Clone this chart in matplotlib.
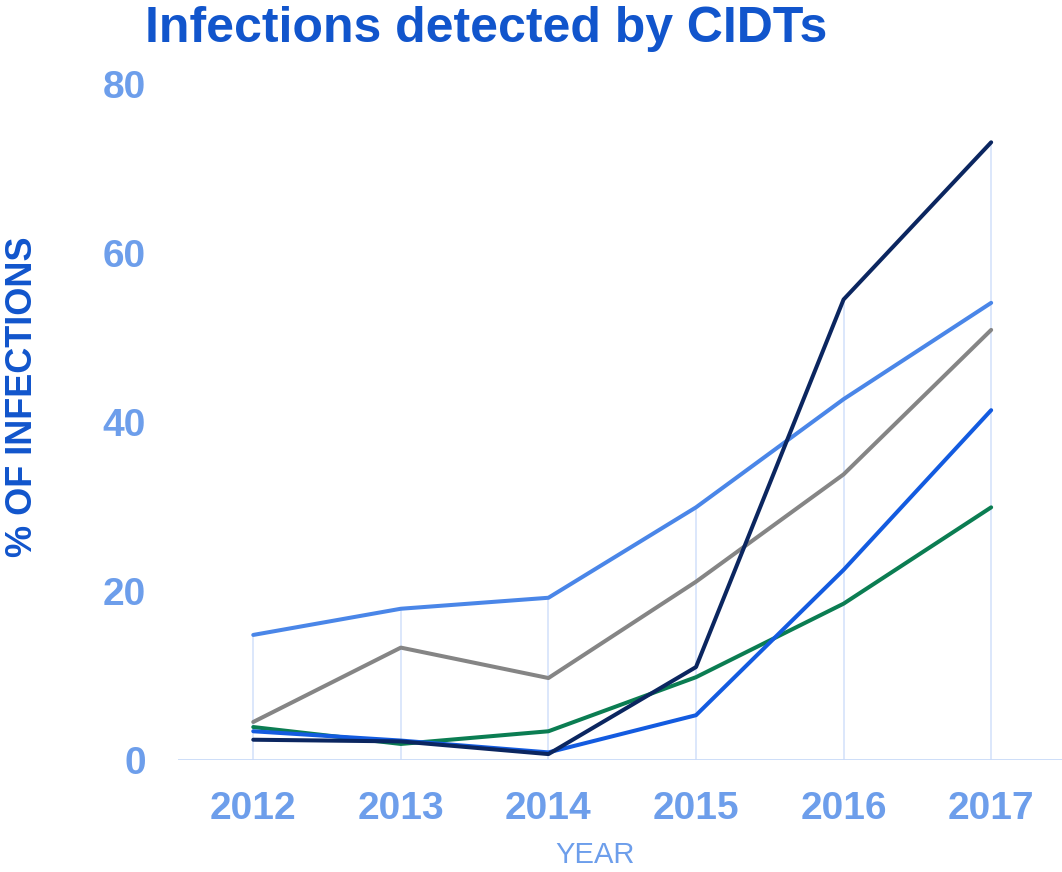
import numpy as np
import matplotlib
matplotlib.use("Agg")
import matplotlib.pyplot as plt

plt.rcParams['font.family'] = ['Liberation Sans', 'DejaVu Sans']

years = [2012, 2013, 2014, 2015, 2016, 2017]
series_a = [14.8, 17.9, 19.2, 29.9, 42.7, 54.1]   # light blue
series_b = [4.5, 13.3, 9.7, 21.1, 33.8, 50.9]     # gray
series_c = [3.9, 1.9, 3.4, 9.8, 18.5, 29.9]       # green
series_d = [3.4, 2.3, 0.9, 5.3, 22.5, 41.4]       # blue
series_e = [2.4, 2.2, 0.7, 11.0, 54.5, 73.1]      # navy
y_ticks = [0, 20, 40, 60, 80]

colors = ['#4a86e8', '#858585', '#0b7d52', '#135be0', '#0b2660']
all_series = [series_a, series_b, series_c, series_d, series_e]

fig = plt.figure(figsize=(10.62, 8.72), dpi=100)
ax = fig.add_axes([178/1062, 112/872, 1 - 178/1062, (760-84)/872])

tops = np.max(np.array(all_series), axis=0)
ax.vlines(years, 0, tops, colors='#dce7fb', linewidth=1.4, zorder=1)
ax.axhline(0, color='#c9daf8', linewidth=2, zorder=1)

for s, c in zip(all_series, colors):
    ax.plot(years, s, color=c, linewidth=2.9, solid_capstyle='round',
            solid_joinstyle='round', zorder=3)

ax.set_xlim(2011.49, 2017.48)
ax.set_ylim(0, 80)
ax.set_xticks(years)
ax.set_xticklabels([str(y) for y in years])
ax.set_yticks(y_ticks)
ax.tick_params(axis='both', length=0, labelsize=28, labelcolor='#6d9eeb')
ax.tick_params(axis='x', pad=22)
ax.tick_params(axis='y', pad=23)
for lbl in ax.get_xticklabels() + ax.get_yticklabels():
    lbl.set_fontweight('bold')
for sp in ax.spines.values():
    sp.set_visible(False)

fig.text(486/1062, 1 - 42/872, 'Infections detected by CIDTs', ha='center',
         va='baseline', fontsize=36, fontweight='bold', color='#1155cc')
fig.text(23/1062, 1 - 397/872, '% OF INFECTIONS', ha='center', va='center',
         rotation=90, fontsize=26, fontweight='bold', color='#1155cc')
fig.text(595/1062, 1 - 855/872, 'YEAR', ha='center', va='center',
         fontsize=21, color='#6d9eeb')

fig.savefig('out.png', dpi=100)
